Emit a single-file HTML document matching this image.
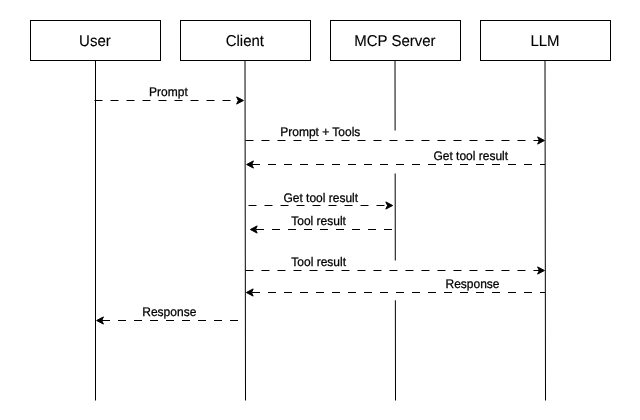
<!DOCTYPE html>
<html><head><meta charset="utf-8">
<style>
html,body{margin:0;padding:0;background:#fff;width:640px;height:420px;overflow:hidden}
svg{display:block;will-change:transform}
text{font-family:"Liberation Sans",sans-serif;fill:#000;text-rendering:geometricPrecision;stroke:#000}
.box{fill:#fff;stroke:#000;stroke-width:1}
.ll{stroke:#000;stroke-width:1;fill:none}
.d{stroke:#000;stroke-width:1;fill:none;stroke-dasharray:8 8}
.a{fill:#000;stroke:#000;stroke-width:1;stroke-miterlimit:10}
</style></head>
<body>
<svg width="640" height="420" viewBox="0 0 640 420">
<rect x="0" y="0" width="640" height="420" fill="#fff"/>
<line class="ll" x1="95.5" y1="60" x2="95.5" y2="400.5"/>
<line class="ll" x1="245" y1="60" x2="245.5" y2="400.5"/>
<line class="ll" x1="395" y1="60" x2="395.5" y2="400.5"/>
<line class="ll" x1="545" y1="60" x2="545.5" y2="400.5"/>
<rect x="390" y="130.5" width="10" height="43" fill="#fff"/>
<rect x="390" y="260.5" width="10" height="39.8" fill="#fff"/>
<rect class="box" x="30.5" y="20.5" width="130" height="40"/>
<rect class="box" x="180.5" y="20.5" width="130" height="40"/>
<rect class="box" x="330.5" y="20.5" width="130" height="40"/>
<rect class="box" x="480.5" y="20.5" width="130" height="40"/>
<text transform="translate(94.9,45.6) scale(1,1.04)" font-size="15" stroke-width="0.12" text-anchor="middle">User</text>
<text transform="translate(244.8,45.6) scale(1,1.04)" font-size="15" stroke-width="0.12" text-anchor="middle">Client</text>
<text transform="translate(394.85,45.6) scale(1,1.04)" font-size="15" stroke-width="0.12" text-anchor="middle">MCP Server</text>
<text transform="translate(545.0,45.6) scale(1,1.04)" font-size="15" stroke-width="0.12" text-anchor="middle">LLM</text>
<path class="d" d="M94.5 100.5 H240.5"/>
<path class="a" d="M243.43 100.5 L236.63 96.90 L238.33 100.5 L236.63 104.10 Z"/>
<text transform="translate(168.4,95.5) scale(1,1.04)" font-size="12" stroke-width="0.25" text-anchor="middle">Prompt</text>
<path class="d" d="M245.5 140.5 H541.5"/>
<path class="a" d="M544.43 140.5 L537.63 136.90 L539.33 140.5 L537.63 144.10 Z"/>
<text transform="translate(320.3,135.6) scale(1,1.04)" font-size="12" stroke-width="0.25" text-anchor="middle">Prompt + Tools</text>
<path class="d" d="M545 164.5 H249.55" style="stroke-dashoffset:3"/>
<path class="a" d="M246.62 164.5 L253.42 160.90 L251.72 164.5 L253.42 168.10 Z"/>
<text transform="translate(470.75,159.5) scale(1,1.04)" font-size="12" stroke-width="0.25" text-anchor="middle">Get tool result</text>
<path class="d" d="M248.5 205.5 H389.7"/>
<path class="a" d="M392.63 205.5 L385.83 201.90 L387.53 205.5 L385.83 209.10 Z"/>
<text transform="translate(320.75,202) scale(1,1.04)" font-size="12" stroke-width="0.25" text-anchor="middle">Get tool result</text>
<path class="d" d="M392 229.5 H253.3"/>
<path class="a" d="M250.37 229.5 L257.17 225.90 L255.47 229.5 L257.17 233.10 Z"/>
<text transform="translate(318.6,224.6) scale(1,1.04)" font-size="12" stroke-width="0.25" text-anchor="middle">Tool result</text>
<path class="d" d="M245.5 270.5 H541.5"/>
<path class="a" d="M544.43 270.5 L537.63 266.90 L539.33 270.5 L537.63 274.10 Z"/>
<text transform="translate(318.7,265.6) scale(1,1.04)" font-size="12" stroke-width="0.25" text-anchor="middle">Tool result</text>
<path class="d" d="M545 292.5 H249.3" style="stroke-dashoffset:3"/>
<path class="a" d="M246.37 292.5 L253.17 288.90 L251.47 292.5 L253.17 296.10 Z"/>
<text transform="translate(472.5,288) scale(1,1.04)" font-size="12" stroke-width="0.25" text-anchor="middle">Response</text>
<path class="d" d="M238 320.5 H99.55"/>
<path class="a" d="M96.62 320.5 L103.42 316.90 L101.72 320.5 L103.42 324.10 Z"/>
<text transform="translate(169.3,315.5) scale(1,1.04)" font-size="12" stroke-width="0.25" text-anchor="middle">Response</text>
</svg>
</body></html>
